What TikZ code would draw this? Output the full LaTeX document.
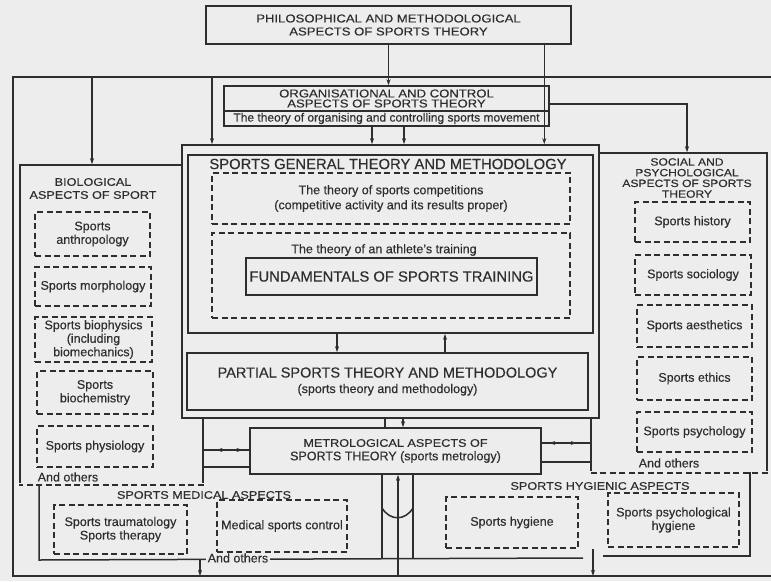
\documentclass[tikz,border=0pt]{standalone}
\usepackage{fontspec}
\setmainfont{Liberation Sans}[FakeBold=0.3]
\newfontfamily\widefont[FakeStretch=1.15, FakeBold=0.3]{Liberation Sans}
\usetikzlibrary{arrows.meta,decorations.markings}
\definecolor{inkgray}{gray}{0.18}
\definecolor{papergray}{gray}{0.93}

\begin{document}
\begin{tikzpicture}[x=1pt, y=-1pt, line width=1.5pt, inkgray,
    >={Stealth[length=6pt, width=4pt]},
    box/.style={draw, rectangle, fill=papergray, inner sep=0pt, align=center,
        font=\fontsize{12.5}{13.5}\selectfont},
    dbox/.style={box, dash pattern=on 6pt off 3.5pt},
    areabox/.style={draw, rectangle, inner sep=0pt},
    capsbox/.style={box, font=\widefont\fontsize{11.4}{13}\selectfont},
    capstext/.style={inner sep=0pt, align=center, font=\widefont\fontsize{11}{13}\selectfont},
    bigtext/.style={inner sep=0pt, align=center, font=\fontsize{14.8}{17}\selectfont},
    smalltext/.style={inner sep=0pt, align=center, font=\fontsize{12.5}{13.5}\selectfont},
    dashline/.style={draw=inkgray, line width=1.6pt, dash pattern=on 6pt off 3.5pt},
    twoway/.style={postaction={decorate}, decoration={markings,
        mark=at position 0.28 with {\arrow{<}}, mark=at position 0.72 with {\arrow{>}}}}
]
\useasboundingbox (0,0) rectangle (771,581);
\fill[papergray] (0,0) rectangle (771,581);

% outer frame
\coordinate (ftl) at (13,77);
\coordinate (ftr) at (771,77);
\coordinate (fbl) at (13,576);
\coordinate (fbr) at (771,576);
\draw (ftr) -- (ftl) -- (fbl) -- (fbr);

% top boxes
\node[capsbox, minimum width=365pt, minimum height=38pt] (phil) at (388.5,25)
    {PHILOSOPHICAL AND METHODOLOGICAL\\ASPECTS OF SPORTS THEORY};
\node[capsbox, font=\widefont\fontsize{11.4}{10}\selectfont, minimum width=325pt, minimum height=25pt] (orghead) at (386.5,98.5)
    {ORGANISATIONAL AND CONTROL\\ASPECTS OF SPORTS THEORY};
\node[box, font=\fontsize{12}{13}\selectfont, minimum width=325pt, minimum height=15pt] (orgsub) at (386.5,118.5)
    {The theory of organising and controlling sports movement};

% biological aspects
\node[areabox, minimum width=183pt, minimum height=319pt] (bio) at (111.5,324.5) {};
\draw[papergray, line width=2.8pt] (bio.south east) -- (bio.south west);
\draw[dashline] (bio.south east) -- (bio.south west);
\node[capstext] (biohead) at (93,188.5) {BIOLOGICAL\\ASPECTS OF SPORT};
\node[dbox, minimum width=115pt, minimum height=44pt] (anthro) at (92.5,234) {Sports\\anthropology};
\node[dbox, minimum width=116pt, minimum height=39pt] (morph) at (93,286.5) {Sports morphology};
\node[dbox, minimum width=117pt, minimum height=45pt] (biophys) at (93.5,339.5) {Sports biophysics\\(including\\biomechanics)};
\node[dbox, minimum width=116pt, minimum height=43pt] (biochem) at (95,392.5) {Sports\\biochemistry};
\node[dbox, minimum width=116pt, minimum height=41pt] (physio) at (95,446.5) {Sports physiology};
\node[smalltext, anchor=west] (bioothers) at (37,477) {And others};

% social and psychological aspects
\node[areabox, minimum width=176pt, minimum height=319pt] (social) at (679,312.5) {};
\draw[papergray, line width=2.8pt] (social.south east) -- (social.south west);
\draw[dashline] (social.south east) -- (social.south west);
\node[capstext, font=\widefont\fontsize{10.5}{10.7}\selectfont] (socialhead) at (687,178)
    {SOCIAL AND\\PSYCHOLOGICAL\\ASPECTS OF SPORTS\\THEORY};
\node[dbox, minimum width=115pt, minimum height=40pt] (history) at (692.5,222) {Sports history};
\node[dbox, minimum width=116pt, minimum height=40pt] (sociology) at (693,275) {Sports sociology};
\node[dbox, minimum width=115pt, minimum height=42pt] (aesthetics) at (694.5,326) {Sports aesthetics};
\node[dbox, minimum width=115pt, minimum height=43pt] (ethics) at (694.5,378.5) {Sports ethics};
\node[dbox, minimum width=115pt, minimum height=40pt] (psychology) at (694.5,432) {Sports psychology};
\node[smalltext, anchor=west] (socialothers) at (638,463) {And others};

% general theory block
\node[box, line width=1.6pt, minimum width=417pt, minimum height=273pt] (genout) at (390.5,281.5) {};
\node[box, line width=1.6pt, minimum width=405pt, minimum height=178pt] (genin) at (390.5,244) {};
\node[bigtext] (genhead) at (388,164) {SPORTS GENERAL THEORY AND METHODOLOGY};
\node[dbox, font=\fontsize{12.5}{15}\selectfont, minimum width=358pt, minimum height=51pt] (comp) at (391,198.5)
    {The theory of sports competitions\\(competitive activity and its results proper)};
\node[dbox, minimum width=358pt, minimum height=85pt] (train) at (391,275.5) {};
\node[smalltext] (trainhead) at (384,250) {The theory of an athlete's training};
\node[box, font=\fontsize{14.8}{17}\selectfont, minimum width=291pt, minimum height=37pt] (fund) at (391.5,276.5)
    {FUNDAMENTALS OF SPORTS TRAINING};
\node[box, line width=1.6pt, minimum width=401pt, minimum height=57pt] (partial) at (387.5,381.5)
    {\fontsize{14.5}{17}\selectfont PARTIAL SPORTS THEORY AND METHODOLOGY\\[2pt]
     \fontsize{12.5}{14}\selectfont (sports theory and methodology)};

% metrology
\node[box, minimum width=291pt, minimum height=46pt] (metro) at (395.5,451)
    {\widefont\fontsize{11}{15}\selectfont METROLOGICAL ASPECTS OF\\
     SPORTS THEORY \normalfont\fontsize{12.5}{15}\selectfont(sports metrology)};

% medical and hygienic aspects
\draw (39,485) -- (39,560) -- (583,558);
\draw (603,556) -- (750,556) -- (750,472);
\node[capstext] (medhead) at (204,495) {SPORTS MEDICAL ASPECTS};
\node[capstext] (hyghead) at (600,486) {SPORTS HYGIENIC ASPECTS};
\node[dbox, minimum width=133pt, minimum height=49pt] (trauma) at (120.5,529.5) {Sports traumatology\\Sports therapy};
\node[dbox, minimum width=130pt, minimum height=52pt] (medctl) at (282,526) {Medical sports control};
\node[dbox, minimum width=132pt, minimum height=51pt] (hygiene) at (512,522.5) {Sports hygiene};
\node[dbox, minimum width=131pt, minimum height=54pt] (psyhyg) at (673.5,520) {Sports psychological\\hygiene};
\node[smalltext, fill=papergray, inner xsep=2pt, anchor=west] (medothers) at (205,558) {And others};

% connections
\draw[->] (phil.south) -- (phil.south |- orghead.north);
\draw[->] ([xshift=-27.5pt]phil.south east) -- ([xshift=-27.5pt]phil.south east |- genout.north);
\draw[->] ([yshift=-5.5pt]orghead.east) -| ([xshift=8pt]social.north);
\draw[->] ([xshift=-14.5pt]orgsub.south) -- ([xshift=-14.5pt]orgsub.south |- genout.north);
\draw[->] ([xshift=17.5pt]orgsub.south) -- ([xshift=17.5pt]orgsub.south |- genout.north);
\coordinate (busa) at (92,77);
\coordinate (busb) at (212,77);
\draw[->] (busa) -- (busa |- bio.north);
\draw[->] (busb) -- (busb |- genout.north);
\draw[->] ([xshift=-53.5pt]genin.south) -- ([xshift=-53.5pt]genin.south |- partial.north);
\draw[<-] ([xshift=54.5pt]genin.south) -- ([xshift=54.5pt]genin.south |- partial.north);
\draw ([xshift=-10.5pt]metro.north) -- ([xshift=-10.5pt]metro.north |- genout.south);
\draw[<-] ([xshift=7.5pt]metro.north) -- ([xshift=7.5pt]metro.north |- genout.south);
\draw[twoway] ([yshift=1pt]metro.west) -- ([yshift=1pt]metro.west -| bio.east);
\draw ([yshift=-16pt]metro.west) -- ([yshift=-16pt]metro.west -| bio.east);
\draw[twoway] ([yshift=8pt]metro.east) -- ([yshift=8pt]metro.east -| social.west);
\draw ([yshift=-11pt]metro.east) -- ([yshift=-11pt]metro.east -| social.west);
\draw ([xshift=-13.5pt]metro.south) -- ++(0,84);
\draw ([xshift=17.5pt]metro.south) -- ++(0,83);
\draw (382,508) .. controls (390,521) and (405,521) .. (413,508);
\draw[<-] ([xshift=2.5pt]metro.south) -- ([xshift=2.5pt]metro.south |- fbl);
\coordinate (medout) at (200,560);
\coordinate (hygout) at (593,549);
\draw[->] (medout) -- (medout |- fbl);
\draw[->] (hygout) -- (hygout |- fbl);
\end{tikzpicture}
\end{document}
